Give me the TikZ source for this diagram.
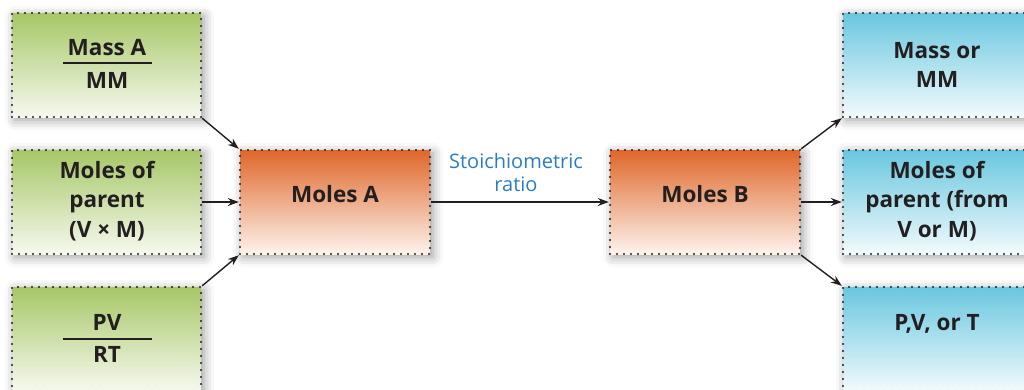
\documentclass[tikz,border=0pt]{standalone}
\usepackage{fontspec}
\setmainfont{Open Sans}
\usetikzlibrary{shadows.blur,arrows.meta}
\definecolor{txtc}{HTML}{231F20}
\definecolor{gtop}{HTML}{A6C766}
\definecolor{gbot}{HTML}{F6F9EF}
\definecolor{otop}{HTML}{DF672A}
\definecolor{obot}{HTML}{FDF3EC}
\definecolor{ctop}{HTML}{69C7DF}
\definecolor{cbot}{HTML}{F2FAFD}
\definecolor{bluet}{HTML}{2A7DC1}
\begin{document}
\begin{tikzpicture}[x=1pt,y=-1pt,
  box/.style={minimum width=189pt,minimum height=104pt,inner sep=0pt,
    draw=txtc,line width=2.4pt,line cap=round,dash pattern=on 0pt off 7pt,
    blur shadow={shadow xshift=3pt,shadow yshift=-3pt,shadow blur radius=10pt,shadow opacity=40}},
  gbox/.style={box,top color=gtop,bottom color=gbot},
  obox/.style={box,top color=otop,bottom color=obot},
  cbox/.style={box,top color=ctop,bottom color=cbot},
  lbl/.style={font=\bfseries\fontsize{22.5}{29.5}\selectfont,text=txtc,align=center,inner sep=0pt},
  slbl/.style={font=\fontsize{20}{23}\selectfont,text=bluet,align=center,inner sep=0pt},
  arr/.style={-{Stealth[length=11pt,width=8pt]},line width=1.4pt,draw=txtc},
  bar/.style={line width=1.7pt,draw=txtc}]
\useasboundingbox (0,0) rectangle (1024,389);
% boxes
\node[gbox] (ma) at (106.5,65) {};
\node[gbox] (mp) at (106.5,202) {};
\node[gbox] (pv) at (106.5,339) {};
\node[obox,minimum width=190pt] (A) at (335,202) {};
\node[obox,minimum width=190pt] (B) at (705,202) {};
\node[cbox] (r1) at (937.5,65) {};
\node[cbox] (r2) at (937.5,202) {};
\node[cbox] (r3) at (937.5,339) {};
% texts
\node[lbl,anchor=base] (tma) at (107,55) {Mass A};
\node[lbl,anchor=base] (tmm) at (107,88) {MM};
\draw[bar] (63,63) -- (152,63);
\node[lbl] (tmp) at (107,201) {Moles of\\parent\\(V × M)};
\node[lbl,anchor=base] (tpv) at (107,330) {PV};
\node[lbl,anchor=base] (trt) at (107,362) {RT};
\draw[bar] (63,339) -- (152,339);
\node[lbl,anchor=base] (tA) at (335,202) {Moles A};
\node[lbl,anchor=base] (tB) at (705,202) {Moles B};
\node[lbl] (tr1) at (937,65) {Mass or\\MM};
\node[lbl] (tr2) at (937,201) {Moles of\\parent (from\\V or M)};
\node[lbl,anchor=base] (tr3) at (937,330) {P,V, or T};
\node[slbl] (st) at (516,172) {Stoichiometric\\ratio};
% arrows
\draw[arr] (ma.south east) -- (A.north west);
\draw[arr] (mp.east) -- (A.west);
\draw[arr] (pv.north east) -- (A.south west);
\draw[arr] (A.east) -- (B.west);
\draw[arr] (B.north east) -- (r1.south west);
\draw[arr] (B.east) -- (r2.west);
\draw[arr] (B.south east) -- (r3.north west);
\end{tikzpicture}
\end{document}
